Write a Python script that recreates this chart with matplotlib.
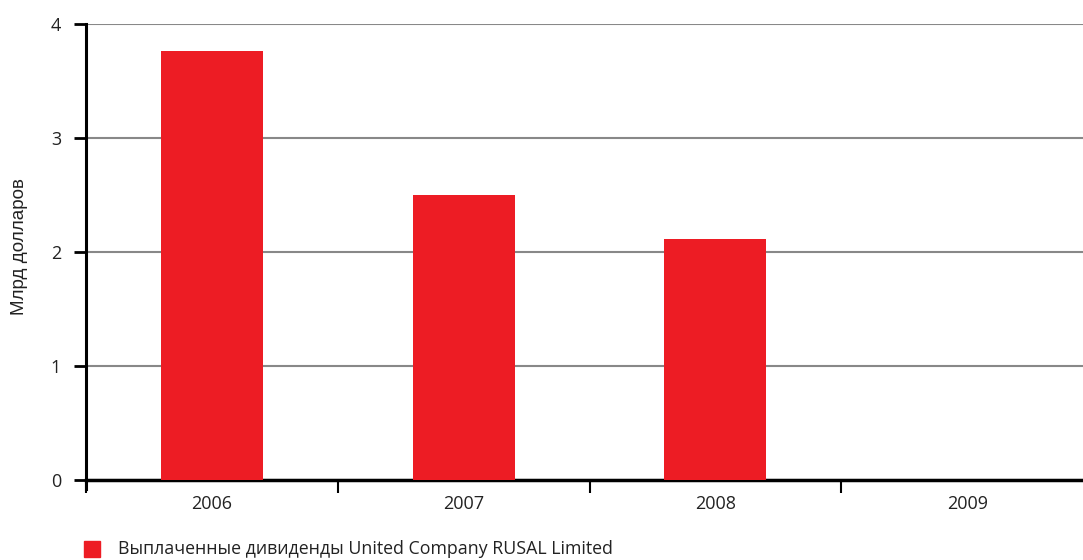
import matplotlib
matplotlib.use("Agg")
import matplotlib.pyplot as plt
from matplotlib.patches import Rectangle

years = ["2006", "2007", "2008", "2009"]
dividends = [3.76, 2.50, 2.11, 0.0]
legend_label = "Выплаченные дивиденды United Company RUSAL Limited"
ylabel = "Млрд долларов"

plt.rcParams['font.family'] = ['Open Sans', 'DejaVu Sans']

fig = plt.figure(figsize=(10.83, 5.6), dpi=100)
ax = fig.add_axes([86/1083, 1-480/560, 1-86/1083, (480-24)/560])

x = list(range(len(years)))
ax.bar(x, dividends, width=0.405, color="#ED1C24", zorder=3)

ax.set_xlim(-0.5, 3.46)
ax.set_ylim(0, 4)
ax.set_yticks([0, 1, 2, 3, 4])
ax.set_yticklabels(["0", "1", "2", "3", "4"], fontsize=13, color="#222222")
ax.yaxis.grid(True, color="#888888", linewidth=1.5, zorder=1)
ax.tick_params(axis="y", length=9, width=2, color="black", pad=9)

ax.set_xticks([-0.5, 0.5, 1.5, 2.5])
ax.set_xticklabels([])
ax.tick_params(axis="x", which="major", length=9, width=1.5, direction="out")
ax.set_xticks(x, minor=True)
ax.set_xticklabels(years, minor=True, fontsize=13, color="#222222")
ax.tick_params(axis="x", which="minor", length=0, pad=11)

for s in ["top", "right"]:
    ax.spines[s].set_visible(False)
ax.spines["left"].set_linewidth(2.2)
ax.spines["bottom"].set_linewidth(2.5)
ax.spines["left"].set_bounds(-0.08, 4)

fig.text(20/1083, 1-247/560, ylabel, rotation=90, ha="center", va="center",
         fontsize=13.5, family=["Liberation Sans", "DejaVu Sans"], color="#222222")

fig.patches.append(Rectangle((84/1083, 1-557/560), 16/1083, 16/560,
                             transform=fig.transFigure, color="#ED1C24", figure=fig))
fig.text(118/1083, 1-549/560, legend_label, ha="left", va="center",
         fontsize=12.8, color="#222222")

fig.savefig("out.png", dpi=100)
